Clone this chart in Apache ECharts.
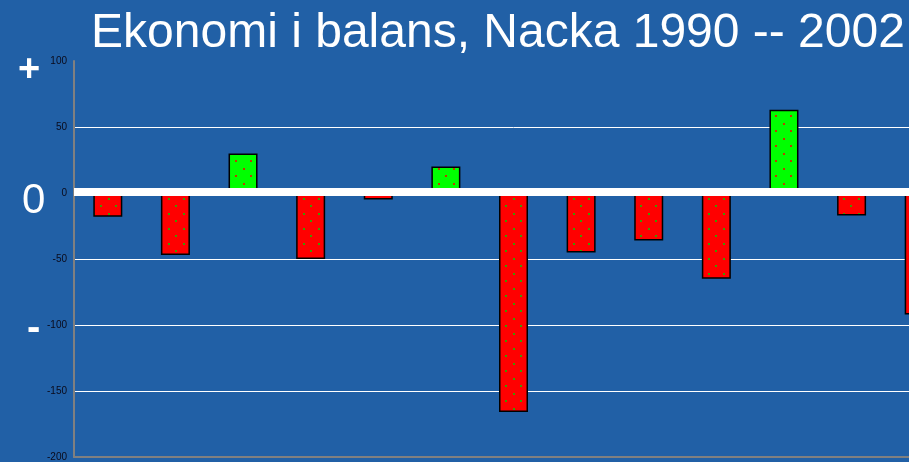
<!DOCTYPE html>
<html>
<head>
<meta charset="utf-8">
<script src="https://cdn.jsdelivr.net/npm/echarts@6/dist/echarts.min.js"></script>
<style>
	html, body { margin: 0; padding: 0; background: #2160a6; overflow: hidden; }
	/* the chart is wider than the window, last bar gets cut like in the slide */
	#chart { width: 953px; height: 462px; }
</style>
</head>
<body>
<div id="chart"></div>
<script>
// år 1990 - 2002
var years = ['1990', '1991', '1992', '1993', '1994', '1995', '1996', '1997', '1998', '1999', '2000', '2001', '2002'];
var balance = [-18, -47, 30, -50, -5, 20, -166, -45, -36, -65, 63, -17, -92];
var yTicks = [-200, -150, -100, -50, 0, 50, 100];

// dotted fill, like the old excel pattern
function dotPattern(bg, dot) {
	var c = document.createElement('canvas');
	c.width = 15;
	c.height = 15;
	var ctx = c.getContext('2d');
	ctx.fillStyle = bg;
	ctx.fillRect(0, 0, 15, 15);
	ctx.fillStyle = dot;
	ctx.fillRect(3, 3, 2, 2);
	ctx.fillRect(10, 10, 2, 2);
	return c;
}
var redFill = { image: dotPattern('#ff0000', '#3f9a00'), repeat: 'repeat' };
var greenFill = { image: dotPattern('#00ff00', '#c03a00'), repeat: 'repeat' };

var data = balance.map(function (v) {
	return {
		value: v,
		itemStyle: { color: v < 0 ? redFill : greenFill }
	};
});

// no gridline at the top (100)
var gridColors = yTicks.map(function (t) {
	return t === 100 ? 'rgba(0,0,0,0)' : '#fff';
});

var mychart = echarts.init(document.getElementById('chart'));
var option = {
	backgroundColor: '#2160a6',
	animation: false,
	title: {
		text: 'Ekonomi i balans, Nacka 1990 -- 2002',
		left: 493,
		top: 5,
		textAlign: 'center',
		textStyle: { color: '#fff', fontFamily: 'Liberation Sans', fontWeight: 'normal', fontSize: 48 }
	},
	graphic: [
		{ type: 'text', left: 18, top: 52, style: { text: '+', fill: '#fff', font: 'bold 38px Liberation Sans' } },
		{ type: 'text', left: 22, top: 180, style: { text: '0', fill: '#fff', font: '42px Liberation Sans' } },
		{ type: 'text', left: 27, top: 309, style: { text: '-', fill: '#fff', font: 'bold 40px Liberation Sans' } }
	],
	grid: { left: 74, top: 61, right: 0, bottom: 5, containLabel: false },
	xAxis: {
		type: 'category',
		data: years,
		axisLine: { onZero: false, lineStyle: { color: '#808080', width: 2 } },
		axisTick: { show: false },
		axisLabel: { show: false }
	},
	yAxis: {
		type: 'value',
		min: yTicks[0],
		max: yTicks[yTicks.length - 1],
		interval: 50,
		axisLine: { show: true, lineStyle: { color: '#808080', width: 2 } },
		axisTick: { show: false },
		axisLabel: { color: '#0a0a1a', fontSize: 10, fontFamily: 'Liberation Sans', margin: 7 },
		splitLine: { lineStyle: { color: gridColors, width: 1 } }
	},
	series: [{
		type: 'bar',
		data: data,
		barWidth: 29,
		itemStyle: { borderColor: '#000', borderWidth: 1.5 },
		markLine: {
			silent: true,
			symbol: 'none',
			label: { show: false },
			lineStyle: { color: '#fff', width: 8, type: 'solid' },
			data: [{ yAxis: 1 }]
		}
	}]
};
mychart.setOption(option, true);
</script>
</body>
</html>
